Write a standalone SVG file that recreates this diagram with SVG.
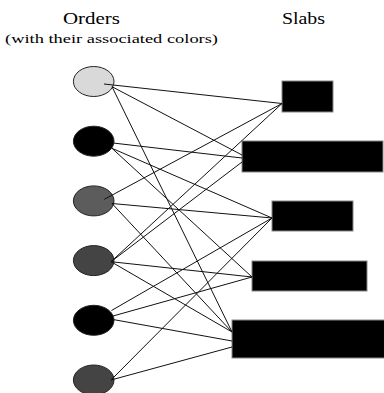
<svg xmlns="http://www.w3.org/2000/svg" width="384" height="393" viewBox="0 0 384 393">
<style>
.t{font-family:"Liberation Serif","Times New Roman",serif;fill:#000}
.o{stroke:#222;stroke-width:1}
.s{fill:#000;stroke:#888;stroke-width:1}
.c line{stroke:#111;stroke-width:1}
</style>
<rect width="384" height="393" fill="#fff"/>
<g id="headers">
<text class="t" x="63" y="24" font-size="16" textLength="57" lengthAdjust="spacingAndGlyphs">Orders</text>
<text class="t" x="282" y="24" font-size="16" textLength="43" lengthAdjust="spacingAndGlyphs">Slabs</text>
<text class="t" x="5" y="42.5" font-size="13.5" textLength="213" lengthAdjust="spacingAndGlyphs">(with their associated colors)</text>
</g>
<g id="order1"><ellipse class="o" cx="93.7" cy="81.5" rx="20.3" ry="15" fill="#d9d9d9"/></g>
<g id="order2"><ellipse class="o" cx="93.7" cy="141.2" rx="20.3" ry="15" fill="#000"/></g>
<g id="order3"><ellipse class="o" cx="93.7" cy="200.9" rx="20.3" ry="15" fill="#5c5c5c"/></g>
<g id="order4"><ellipse class="o" cx="93.7" cy="260.6" rx="20.3" ry="15" fill="#444"/></g>
<g id="order5"><ellipse class="o" cx="93.7" cy="320.3" rx="20.3" ry="15" fill="#000"/></g>
<g id="order6"><ellipse class="o" cx="93.7" cy="380" rx="20.3" ry="15" fill="#444"/></g>
<g id="slab1"><rect class="s" x="282" y="81" width="51" height="31"/></g>
<g id="slab2"><rect class="s" x="242" y="141" width="141" height="31"/></g>
<g id="slab3"><rect class="s" x="272" y="201" width="81" height="30"/></g>
<g id="slab4"><rect class="s" x="252" y="261" width="115" height="30"/></g>
<g id="slab5"><rect class="s" x="232" y="320" width="155" height="38"/></g>
<g id="connectors" class="c">
<line x1="104" y1="84" x2="282" y2="103.5"/>
<line x1="112" y1="86.7" x2="242" y2="155"/>
<line x1="112" y1="86.7" x2="232" y2="332"/>
<line x1="113" y1="143" x2="242" y2="158"/>
<line x1="112" y1="148.3" x2="272" y2="218"/>
<line x1="112" y1="148.3" x2="252" y2="277"/>
<line x1="104.3" y1="199.3" x2="282" y2="103.5"/>
<line x1="112" y1="203.5" x2="272" y2="218"/>
<line x1="112" y1="203.5" x2="232" y2="332"/>
<line x1="111" y1="261.7" x2="282" y2="103.5"/>
<line x1="111" y1="261.7" x2="242" y2="162"/>
<line x1="111" y1="261.7" x2="252" y2="277"/>
<line x1="111" y1="261.7" x2="232" y2="332"/>
<line x1="111.5" y1="310.5" x2="272" y2="218"/>
<line x1="113" y1="316" x2="252" y2="277"/>
<line x1="113" y1="319.5" x2="232" y2="341"/>
<line x1="111" y1="380" x2="272" y2="218"/>
<line x1="111" y1="380" x2="232" y2="347"/>
</g>
</svg>
